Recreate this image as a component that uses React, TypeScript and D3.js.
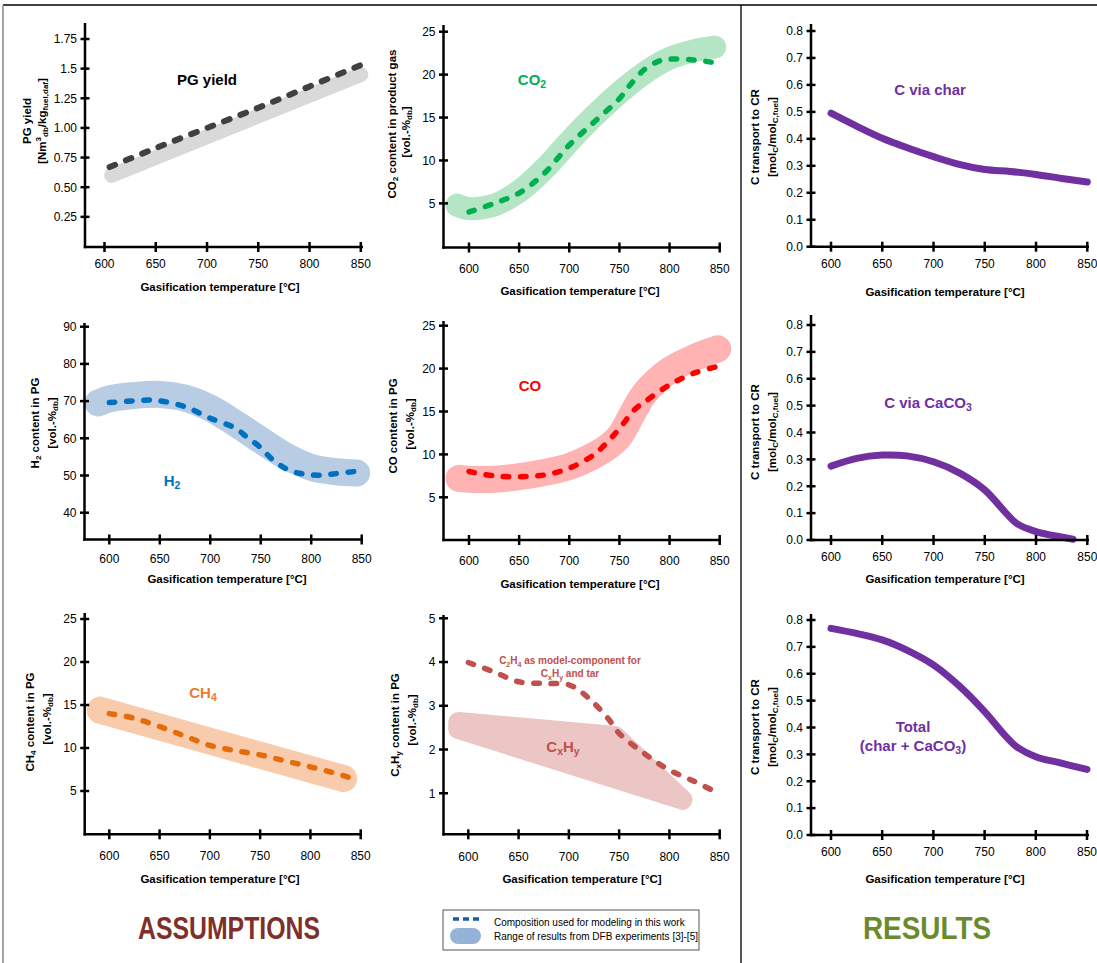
import React from "react";
import * as d3 from "d3";

const FONT = "'Liberation Sans', Arial, Helvetica, sans-serif";

// ---------- DATA ----------
const xTickVals = [600, 650, 700, 750, 800, 850];

const pgTicks = [0.25, 0.5, 0.75, 1.0, 1.25, 1.5, 1.75];
const pgTickLabels = ["0.25", "0.50", "0.75", "1.00", "1.25", "1.5", "1.75"];
const pctTicks = [5, 10, 15, 20, 25];
const h2Ticks = [40, 50, 60, 70, 80, 90];
const cxhyTicks = [1, 2, 3, 4, 5];
const cTicks = [0, 0.1, 0.2, 0.3, 0.4, 0.5, 0.6, 0.7, 0.8];

// PG yield
const pgModelT = [605, 650, 700, 750, 800, 850];
const pgModelV = [0.67, 0.83, 1.0, 1.17, 1.35, 1.53];
const pgBandT = [607, 850];
const pgBandV = [0.6, 1.45];

// CO2
const co2ModelT = [600, 625, 650, 675, 700, 725, 750, 760, 775, 790, 800, 825, 850];
const co2ModelV = [4.0, 5.0, 6.2, 8.5, 11.8, 14.5, 17.2, 18.7, 20.6, 21.6, 21.8, 21.7, 21.3];
const co2BandT = [588, 600, 625, 650, 675, 700, 725, 750, 775, 800, 825, 845];
const co2BandV = [4.8, 4.4, 4.8, 6.4, 9.0, 12.2, 15.2, 17.9, 20.2, 21.9, 22.8, 23.2];

// H2
const h2ModelT = [600, 625, 640, 650, 675, 700, 725, 736, 749, 762, 776, 792, 809, 828, 847];
const h2ModelV = [69.6, 70.1, 70.3, 70.1, 68.5, 65.4, 62.7, 60.4, 57.7, 54.2, 51.7, 50.4, 50.1, 50.6, 51.2];
const h2BandT = [589, 600, 625, 650, 675, 700, 725, 750, 775, 800, 825, 845];
const h2BandV = [69.5, 70.6, 71.5, 71.8, 70.8, 68.1, 64.0, 59.5, 55.2, 52.2, 51.0, 50.7];

// CO
const coModelT = [600, 625, 650, 675, 700, 725, 740, 750, 765, 775, 800, 825, 850];
const coModelV = [8.0, 7.5, 7.4, 7.6, 8.4, 10.0, 11.7, 13.0, 15.2, 16.1, 18.1, 19.5, 20.3];
const coBandT = [590, 600, 625, 650, 675, 700, 725, 740, 750, 765, 775, 800, 825, 848];
const coBandV = [7.2, 7.1, 7.1, 7.4, 7.9, 8.6, 9.9, 11.0, 12.1, 15.2, 17.1, 19.8, 21.3, 22.3];

// CH4
const ch4ModelT = [600, 625, 650, 675, 700, 725, 750, 775, 800, 825, 845];
const ch4ModelV = [14.0, 13.45, 12.5, 11.4, 10.3, 9.7, 9.2, 8.5, 7.8, 7.05, 6.35];
const ch4BandT = [591, 700, 833];
const ch4BandV = [14.4, 10.8, 6.45];

// CxHy
const c2h4ModelT = [600, 625, 650, 675, 700, 712, 725, 740, 750, 775, 800, 825, 845];
const c2h4ModelV = [3.99, 3.78, 3.55, 3.51, 3.48, 3.32, 3.06, 2.68, 2.37, 1.91, 1.53, 1.27, 1.04];
const cxhyRegionT = [590, 746, 813, 590];
const cxhyRegionV = [2.63, 2.31, 0.85, 2.47];

// Results
const charT = [600, 625, 650, 675, 700, 725, 750, 775, 800, 825, 850];
const charV = [0.495, 0.447, 0.402, 0.366, 0.334, 0.305, 0.286, 0.279, 0.268, 0.253, 0.24];
const caco3T = [600, 625, 650, 674, 700, 726, 750, 771, 781, 800, 823, 836];
const caco3V = [0.275, 0.304, 0.316, 0.313, 0.291, 0.248, 0.186, 0.099, 0.062, 0.031, 0.012, 0.003];
const totalT = [600, 625, 650, 674, 700, 726, 750, 771, 781, 800, 823, 850];
const totalV = [0.769, 0.75, 0.726, 0.688, 0.633, 0.552, 0.459, 0.366, 0.329, 0.291, 0.269, 0.244];

// ---------- LAYOUT ----------
type Lay = {
  ax: number; ay: number; top: number; right: number;
  x0: number; x1: number; yd: [number, number]; yr: [number, number];
  tickBase: number; titleBase: number; titleX: number;
};

const L: Record<string, Lay> = {
  p1: { ax: 85, ay: 247, top: 23, right: 363, x0: 104.5, x1: 360.8, yd: [0, 1.75], yr: [246.5, 39], tickBase: 267.5, titleBase: 290.5, titleX: 220 },
  p2: { ax: 443.5, ay: 247.5, top: 25, right: 721, x0: 469, x1: 719.7, yd: [0, 25], yr: [246.3, 31.7], tickBase: 272.5, titleBase: 294.5, titleX: 580 },
  p3: { ax: 811, ay: 246.7, top: 24, right: 1089, x0: 831, x1: 1087.3, yd: [0, 0.8], yr: [246.7, 31], tickBase: 267.5, titleBase: 295.5, titleX: 945 },
  p4: { ax: 84.5, ay: 539.5, top: 323, right: 363, x0: 109.3, x1: 361.7, yd: [40, 90], yr: [512.7, 326.7], tickBase: 562.5, titleBase: 582.5, titleX: 227 },
  p5: { ax: 443.5, ay: 540, top: 321, right: 721, x0: 469, x1: 719.7, yd: [0, 25], yr: [540.2, 325.7], tickBase: 564.5, titleBase: 588, titleX: 580 },
  p6: { ax: 811, ay: 540, top: 315, right: 1089, x0: 831, x1: 1087.3, yd: [0, 0.8], yr: [540, 325], tickBase: 561, titleBase: 582.5, titleX: 945 },
  p7: { ax: 84.7, ay: 834.3, top: 613, right: 362, x0: 109.3, x1: 360.7, yd: [0, 25], yr: [834, 619], tickBase: 859.5, titleBase: 882.5, titleX: 220 },
  p8: { ax: 443.5, ay: 834.3, top: 615, right: 721, x0: 468.3, x1: 719.7, yd: [0, 5], yr: [837, 618.3], tickBase: 861, titleBase: 882.5, titleX: 582 },
  p9: { ax: 811, ay: 835, top: 614, right: 1089, x0: 831, x1: 1087, yd: [0, 0.8], yr: [835, 620], tickBase: 856, titleBase: 882.5, titleX: 945 },
};

type Sc = d3.ScaleLinear<number, number>;

function mkLine(x: Sc, y: Sc, T: number[], V: number[], curve: any = d3.curveCatmullRom.alpha(0.5)) {
  const pts: [number, number][] = T.map((t, i) => [x(t), y(V[i])]);
  return d3.line().curve(curve)(pts) || "";
}

function Panel({ lay, yTicks, yLabels, children }: { lay: Lay; yTicks: number[]; yLabels: string[]; children: (x: Sc, y: Sc) => React.ReactNode }) {
  const x = d3.scaleLinear().domain([600, 850]).range([lay.x0, lay.x1]);
  const y = d3.scaleLinear().domain(lay.yd).range(lay.yr);
  return (
    <g>
      {children(x, y)}
      <line x1={lay.ax} y1={lay.top} x2={lay.ax} y2={lay.ay + 1.2} stroke="#000" strokeWidth={2.5} />
      <line x1={lay.ax - 1.2} y1={lay.ay} x2={lay.right} y2={lay.ay} stroke="#000" strokeWidth={2.5} />
      {yTicks.map((t, i) => (
        <g key={"y" + i}>
          <line x1={lay.ax - 4.5} x2={lay.ax + 4.5} y1={y(t)} y2={y(t)} stroke="#000" strokeWidth={2.5} />
          <text x={lay.ax - 8} y={y(t) + 4.3} fontSize={12} textAnchor="end" fill="#000">{yLabels[i]}</text>
        </g>
      ))}
      {xTickVals.map((t, i) => (
        <g key={"x" + i}>
          <line x1={x(t)} x2={x(t)} y1={lay.ay - 5} y2={lay.ay + 5} stroke="#000" strokeWidth={2.5} />
          <text x={x(t)} y={lay.tickBase} fontSize={12} textAnchor="middle" fill="#000">{t}</text>
        </g>
      ))}
      <text x={lay.titleX} y={lay.titleBase} fontSize={11.5} fontWeight="bold" textAnchor="middle">Gasification temperature [°C]</text>
    </g>
  );
}

function YTitle({ x, y, children }: { x: number; y: number; children: React.ReactNode }) {
  return (
    <text transform={`translate(${x},${y}) rotate(-90)`} textAnchor="middle" dominantBaseline="central" fontSize={11.5} fontWeight="bold">
      {children}
    </text>
  );
}

// subscript / superscript pieces (baseline shifted, smaller)
const Sub = ({ t }: { t: string }) => (
  <tspan fontSize="70%" baselineShift={-3}>{t}</tspan>
);
const Sup = ({ t }: { t: string }) => (
  <tspan fontSize="70%" baselineShift={4}>{t}</tspan>
);

const Band = ({ d, color, w }: { d: string; color: string; w: number }) => (
  <path d={d} fill="none" stroke={color} strokeWidth={w} strokeLinecap="round" strokeLinejoin="round" />
);
const Dash = ({ d, color, w = 5.5, dash = "5.5 11.8" }: { d: string; color: string; w?: number; dash?: string }) => (
  <path d={d} fill="none" stroke={color} strokeWidth={w} strokeLinecap="round" strokeDasharray={dash} />
);
const Solid = ({ d, color }: { d: string; color: string }) => (
  <path d={d} fill="none" stroke={color} strokeWidth={7} strokeLinecap="round" strokeLinejoin="round" />
);

const PURPLE = "#7030a0";
const cLabels = cTicks.map((t) => t.toFixed(1));

export default function App() {
  return (
    <svg width={1097} height={963} style={{ position: "absolute", left: 0, top: 0, background: "#fff" }} fontFamily={FONT}>
      <rect x={0} y={0} width={1097} height={963} fill="#fff" />
      {/* frame */}
      <line x1={3} y1={5} x2={1097} y2={5} stroke="#000" strokeWidth={1.3} />
      <line x1={3} y1={5} x2={3} y2={963} stroke="#888" strokeWidth={1.5} />
      <line x1={741} y1={5} x2={741} y2={963} stroke="#000" strokeWidth={1.3} />

      {/* Panel 1: PG yield */}
      <Panel lay={L.p1} yTicks={pgTicks} yLabels={pgTickLabels}>
        {(x, y) => (
          <>
            <Band d={mkLine(x, y, pgBandT, pgBandV, d3.curveLinear)} color="#d9d9d9" w={15} />
            <Dash d={mkLine(x, y, pgModelT, pgModelV)} color="#404040" w={6} dash="6 11.6" />
          </>
        )}
      </Panel>
      <text x={207} y={85} fontSize={15} fontWeight="bold" textAnchor="middle">PG yield</text>
      <YTitle x={27} y={121}>PG yield</YTitle>
      <YTitle x={42} y={121}>
        [Nm<Sup t="3" /><Sub t="db" />/kg<Sub t="fuel,daf" />]
      </YTitle>

      {/* Panel 2: CO2 */}
      <Panel lay={L.p2} yTicks={pctTicks} yLabels={pctTicks.map(String)}>
        {(x, y) => (
          <>
            <Band d={mkLine(x, y, co2BandT, co2BandV)} color="#b4e6c6" w={23} />
            <Dash d={mkLine(x, y, co2ModelT, co2ModelV)} color="#00b050" w={5.5} />
          </>
        )}
      </Panel>
      <text x={532} y={85} fontSize={15} fontWeight="bold" textAnchor="middle" fill="#00b050">CO<Sub t="2" /></text>
      <YTitle x={392} y={124}>CO<Sub t="2" /> content in product gas</YTitle>
      <YTitle x={406} y={132}>[vol.-%<Sub t="db" />]</YTitle>

      {/* Panel 3: C via char */}
      <Panel lay={L.p3} yTicks={cTicks} yLabels={cLabels}>
        {(x, y) => <Solid d={mkLine(x, y, charT, charV)} color={PURPLE} />}
      </Panel>
      <text x={930} y={95} fontSize={15} fontWeight="bold" textAnchor="middle" fill={PURPLE}>C via char</text>
      <YTitle x={755} y={137}>C transport to CR</YTitle>
      <YTitle x={772} y={137}>[mol<Sub t="C" />/mol<Sub t="C,fuel" />]</YTitle>

      {/* Panel 4: H2 */}
      <Panel lay={L.p4} yTicks={h2Ticks} yLabels={h2Ticks.map(String)}>
        {(x, y) => (
          <>
            <Band d={mkLine(x, y, h2BandT, h2BandV)} color="#b8cce4" w={27} />
            <Dash d={mkLine(x, y, h2ModelT, h2ModelV)} color="#0070c0" w={5.5} />
          </>
        )}
      </Panel>
      <text x={172} y={486} fontSize={15} fontWeight="bold" textAnchor="middle" fill="#0070c0">H<Sub t="2" /></text>
      <YTitle x={35} y={423}>H<Sub t="2" /> content in PG</YTitle>
      <YTitle x={52} y={423}>[vol.-%<Sub t="db" />]</YTitle>

      {/* Panel 5: CO */}
      <Panel lay={L.p5} yTicks={pctTicks} yLabels={pctTicks.map(String)}>
        {(x, y) => (
          <>
            <Band d={mkLine(x, y, coBandT, coBandV)} color="#ffb3b3" w={27} />
            <Dash d={mkLine(x, y, coModelT, coModelV)} color="#ff0000" w={5.5} />
          </>
        )}
      </Panel>
      <text x={530} y={391} fontSize={15} fontWeight="bold" textAnchor="middle" fill="#ff0000">CO</text>
      <YTitle x={393} y={426}>CO content in PG</YTitle>
      <YTitle x={410} y={424}>[vol.-%<Sub t="db" />]</YTitle>

      {/* Panel 6: C via CaCO3 */}
      <Panel lay={L.p6} yTicks={cTicks} yLabels={cLabels}>
        {(x, y) => <Solid d={mkLine(x, y, caco3T, caco3V)} color={PURPLE} />}
      </Panel>
      <text x={928} y={408} fontSize={15} fontWeight="bold" textAnchor="middle" fill={PURPLE}>C via CaCO<Sub t="3" /></text>
      <YTitle x={755} y={432}>C transport to CR</YTitle>
      <YTitle x={772} y={432}>[mol<Sub t="C" />/mol<Sub t="C,fuel" />]</YTitle>

      {/* Panel 7: CH4 */}
      <Panel lay={L.p7} yTicks={pctTicks} yLabels={pctTicks.map(String)}>
        {(x, y) => (
          <>
            <Band d={mkLine(x, y, ch4BandT, ch4BandV, d3.curveLinear)} color="#f8cbad" w={27} />
            <Dash d={mkLine(x, y, ch4ModelT, ch4ModelV)} color="#e46c0a" w={5.5} />
          </>
        )}
      </Panel>
      <text x={203} y={698} fontSize={15} fontWeight="bold" textAnchor="middle" fill="#e97c30">CH<Sub t="4" /></text>
      <YTitle x={30} y={722}>CH<Sub t="4" /> content in PG</YTitle>
      <YTitle x={47} y={719}>[vol.-%<Sub t="db" />]</YTitle>

      {/* Panel 8: CxHy */}
      <Panel lay={L.p8} yTicks={cxhyTicks} yLabels={cxhyTicks.map(String)}>
        {(x, y) => (
          <>
            <path
              d={mkLine(x, y, cxhyRegionT, cxhyRegionV, d3.curveLinearClosed)}
              fill="#ebc6c5"
              stroke="#ebc6c5"
              strokeWidth={20}
              strokeLinejoin="round"
            />
            <Dash d={mkLine(x, y, c2h4ModelT, c2h4ModelV)} color="#c0504d" w={5.5} />
          </>
        )}
      </Panel>
      <text x={570} y={664} fontSize={10} fontWeight="bold" textAnchor="middle" fill="#c0504d">C<Sub t="2" />H<Sub t="4" /> as model-component for</text>
      <text x={570} y={677} fontSize={10} fontWeight="bold" textAnchor="middle" fill="#c0504d">C<Sub t="x" />H<Sub t="y" /> and tar</text>
      <text x={563} y={752} fontSize={15} fontWeight="bold" textAnchor="middle" fill="#c0504d">C<Sub t="x" />H<Sub t="y" /></text>
      <YTitle x={395} y={725}>C<Sub t="x" />H<Sub t="y" /> content in PG</YTitle>
      <YTitle x={412} y={720}>[vol.-%<Sub t="db" />]</YTitle>

      {/* Panel 9: Total */}
      <Panel lay={L.p9} yTicks={cTicks} yLabels={cLabels}>
        {(x, y) => <Solid d={mkLine(x, y, totalT, totalV)} color={PURPLE} />}
      </Panel>
      <text x={913} y={732} fontSize={15} fontWeight="bold" textAnchor="middle" fill={PURPLE}>Total</text>
      <text x={913} y={751} fontSize={15} fontWeight="bold" textAnchor="middle" fill={PURPLE}>(char + CaCO<Sub t="3" />)</text>
      <YTitle x={755} y={727}>C transport to CR</YTitle>
      <YTitle x={772} y={727}>[mol<Sub t="C" />/mol<Sub t="C,fuel" />]</YTitle>

      {/* Section titles */}
      <text x={229} y={939} fontSize={31} fontWeight="bold" textAnchor="middle" fill="#7f2f2a" textLength={182} lengthAdjust="spacingAndGlyphs">ASSUMPTIONS</text>
      <text x={927} y={939} fontSize={31} fontWeight="bold" textAnchor="middle" fill="#6b8a2e" textLength={128} lengthAdjust="spacingAndGlyphs">RESULTS</text>

      {/* Legend */}
      <rect x={443} y={910} width={256} height={40} fill="#fff" stroke="#555" strokeWidth={1} />
      <line x1={453} x2={481} y1={919} y2={919} stroke="#1f5aa6" strokeWidth={3.5} strokeDasharray="6 4" />
      <rect x={450} y={928} width={31} height={16} rx={8} ry={8} fill="#95b3d7" />
      <text x={494} y={926} fontSize={10} fill="#000">Composition used for modeling in this work</text>
      <text x={494} y={940} fontSize={10} fill="#000">Range of results from DFB experiments [3]-[5]</text>
    </svg>
  );
}
